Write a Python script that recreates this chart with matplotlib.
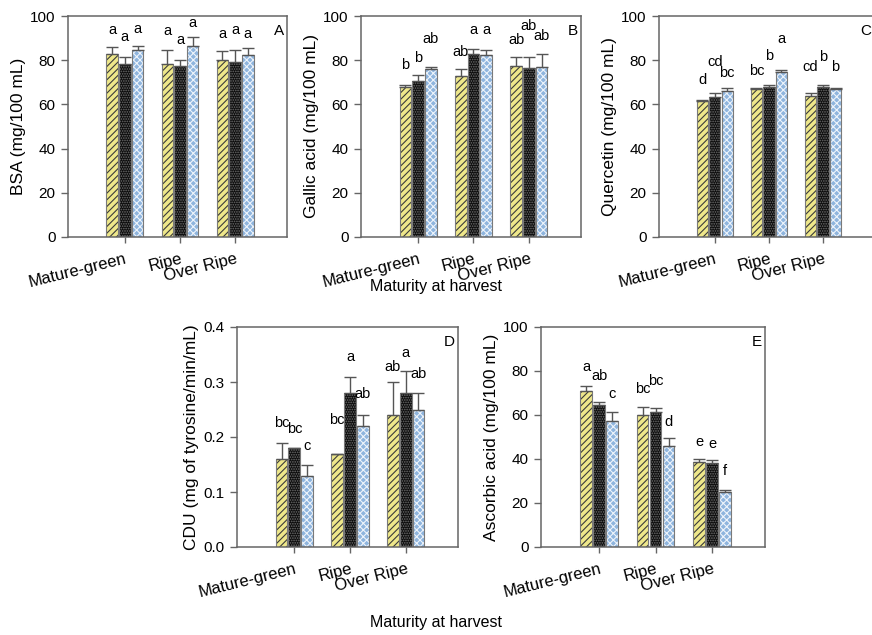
import numpy as np
import matplotlib
matplotlib.use("Agg")
from matplotlib import pyplot as plt

plt.rcParams['font.family'] = ['Liberation Sans', 'DejaVu Sans']
plt.rcParams['hatch.linewidth'] = 0.8

# data
stages = ["Mature-green", "Ripe", "Over Ripe"]

bsa = [[83, 78.5, 84.5], [78.5, 77.5, 86.5], [80, 79, 82.5]]
bsa_err = [[3, 3, 2], [6, 2.7, 4], [4, 5.5, 3]]
bsa_sig = [["a", "a", "a"], ["a", "a", "a"], ["a", "a", "a"]]

gallic = [[68, 70.5, 76], [73, 83, 82.5], [77.5, 76.5, 77]]
gallic_err = [[1, 3, 1], [3, 2, 2], [4, 5, 6]]
gallic_sig = [["b", "b", "ab"], ["ab", "a", "a"], ["ab", "ab", "ab"]]

querc = [[61.5, 63.5, 66], [67, 68, 74.5], [64, 68, 67]]
querc_err = [[0.3, 1.5, 1.5], [0.5, 1, 1.2], [1, 1, 0.3]]
querc_sig = [["d", "cd", "bc"], ["bc", "b", "a"], ["cd", "b", "b"]]

cdu = [[0.16, 0.18, 0.13], [0.17, 0.28, 0.22], [0.24, 0.28, 0.25]]
cdu_err = [[0.03, 0.0, 0.02], [0.0, 0.03, 0.02], [0.06, 0.04, 0.03]]
cdu_sig = [["bc", "bc", "c"], ["bc", "a", "ab"], ["ab", "a", "ab"]]

ascorb = [[71, 64.5, 57.5], [60, 61.5, 46], [38.5, 38, 25]]
ascorb_err = [[2, 1.5, 4], [3.5, 1.5, 3.5], [1.5, 1.5, 1]]
ascorb_sig = [["a", "ab", "c"], ["bc", "bc", "d"], ["e", "e", "f"]]

# how far (points) each letter sits above its error bar
bsa_lift = [[9, 11.5, 9.5], [11, 11.5, 7], [9.5, 11.5, 7]]
gallic_lift = [[11, 9, 17], [9.5, 11, 12], [9.5, 19.5, 9.5]]
querc_lift = [[12, 20, 8], [9, 18, 19], [16, 17, 12.5]]
cdu_lift = [[11.5, 11, 10.5], [21, 11, 12], [8, 10, 11]]
ascorb_lift = [[11, 16, 10], [10.5, 16.5, 8.5], [9, 9, 11]]

# bar styles: (face, hatch colour, hatch)
STYLES = [("#eee78a", "#3a3a3a", "/////"),
          ("#0d0d0d", "#6e6e6e", "......."),
          ("#8fb5de", "#eef4fb", "xxxxx")]
SPINE = "#666666"


def panel(ax, vals, errs, sig, lift, ylabel, ylim, yticks, yfmt, tag):
  vals = np.array(vals)
  errs = np.array(errs)
  xs = np.arange(1, len(stages) + 1)
  w, step = 0.21, 0.23
  for i in range(3):
    x = xs + (i - 1) * step
    face, hcol, hatch = STYLES[i]
    ax.bar(x, vals[:, i], w, color=face, edgecolor=hcol, hatch=hatch,
           linewidth=0, zorder=2)
    ax.bar(x, vals[:, i], w, fill=False, edgecolor="#7a7a7a",
           linewidth=0.8, zorder=2.5)
    ax.errorbar(x, vals[:, i], yerr=[np.zeros(len(x)), errs[:, i]],
                fmt="none", ecolor="#555555", elinewidth=1, capsize=4,
                capthick=1, zorder=3)
    for j in range(len(x)):
      ax.annotate(sig[j][i], (x[j], vals[j, i] + errs[j, i]),
                  xytext=(0, lift[j][i]), textcoords="offset points",
                  ha="center", va="baseline", fontsize=10.5)

  ax.set_xlim(-0.03, 3.94)
  ax.set_ylim(*ylim)
  ax.set_yticks(yticks)
  ax.set_yticklabels([yfmt.format(t) for t in yticks])
  ax.set_xticks(xs)
  ax.set_xticklabels(stages, rotation=14, ha="right", rotation_mode="anchor")
  ax.tick_params(axis="both", labelsize=11, length=5, width=1,
                 color=SPINE, pad=4)
  ax.tick_params(axis="x", labelsize=12, length=4, pad=6)
  ax.set_ylabel(ylabel, fontsize=12.5, labelpad=3)
  for s in ax.spines.values():
    s.set_color(SPINE)
    s.set_linewidth(1.1)
  ax.text(0.985, 0.965, tag, transform=ax.transAxes, ha="right", va="top",
          fontsize=11)


def main():
  W, H = 872, 635
  fig = plt.figure(figsize=(W / 100, H / 100), dpi=100)

  def box(x0, x1, y0, y1):
    return [x0 / W, 1 - y1 / H, (x1 - x0) / W, (y1 - y0) / H]

  ax_a = fig.add_axes(box(68, 287, 16, 237))
  ax_b = fig.add_axes(box(361, 581, 16, 237))
  ax_c = fig.add_axes(box(659, 874, 16, 237))
  ax_d = fig.add_axes(box(237, 458, 327, 547))
  ax_e = fig.add_axes(box(541, 765, 327, 547))

  t100 = [0, 20, 40, 60, 80, 100]
  panel(ax_a, bsa, bsa_err, bsa_sig, bsa_lift, "BSA (mg/100 mL)",
        (0, 100), t100, "{:g}", "A")
  panel(ax_b, gallic, gallic_err, gallic_sig, gallic_lift,
        "Gallic acid (mg/100 mL)", (0, 100), t100, "{:g}", "B")
  panel(ax_c, querc, querc_err, querc_sig, querc_lift,
        "Quercetin (mg/100 mL)", (0, 100), t100, "{:g}", "C")
  panel(ax_d, cdu, cdu_err, cdu_sig, cdu_lift,
        "CDU (mg of tyrosine/min/mL)", (0, 0.4),
        [0, 0.1, 0.2, 0.3, 0.4], "{:.1f}", "D")
  panel(ax_e, ascorb, ascorb_err, ascorb_sig, ascorb_lift,
        "Ascorbic acid (mg/100 mL)", (0, 100), t100, "{:g}", "E")

  fig.text(0.5, 1 - 287 / H, "Maturity at harvest", ha="center",
           va="center", fontsize=11.5)
  fig.text(0.5, 1 - 622 / H, "Maturity at harvest", ha="center",
           va="center", fontsize=11.5)

  fig.savefig("out.png", dpi=100)


if __name__ == "__main__":
  main()
